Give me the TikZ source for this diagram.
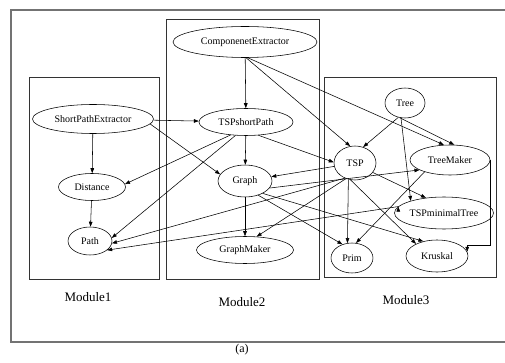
\documentclass[tikz,border=0pt]{standalone}
\usepackage{fontspec}
\setmainfont{Liberation Serif}
\usetikzlibrary{shapes.geometric,arrows.meta}

\begin{document}
\begin{tikzpicture}[->,>={Triangle[length=5pt,width=3.6pt]},x=1pt,y=-1pt,line width=0.55pt,
	comp/.style={ellipse,draw,inner sep=0pt,font=\fontsize{10}{12}\selectfont},
	modbox/.style={-,draw=black!80,line width=0.9pt},
	modlabel/.style={font=\fontsize{13}{15}\selectfont}]
	\useasboundingbox (0,0) rectangle (505,363);
	\draw[-,black!55,line width=1.2pt] (11,10) rectangle (512,342);
	
	% module frames
	\draw[modbox] (29,77) rectangle (159,279);
	\draw[modbox] (166,19) rectangle (319,279);
	\draw[modbox] (324,77) rectangle (496,277);
	\node[modlabel] (m1) at (88,297) {Module1};
	\node[modlabel] (m2) at (242,302) {Module2};
	\node[modlabel] (m3) at (406,300) {Module3};
	\node[font=\fontsize{12}{14}\selectfont] (cap) at (242,350) {(a)};
	
	% Module1
	\node[comp,minimum width=121pt,minimum height=29pt] (spe) at (93,119) {ShortPathExtractor};
	\node[comp,minimum width=67pt,minimum height=27pt] (dist) at (92,187) {Distance};
	\node[comp,minimum width=44pt,minimum height=28pt] (path) at (90,241) {Path};
	
	% Module2
	\node[comp,minimum width=144pt,minimum height=31pt] (ce) at (245,42) {ComponenetExtractor};
	\node[comp,minimum width=94pt,minimum height=27pt] (tsps) at (246,122) {TSPshortPath};
	\node[comp,minimum width=54pt,minimum height=32pt] (graph) at (245,181) {Graph};
	\node[comp,minimum width=97pt,minimum height=27pt] (gmaker) at (245,250) {GraphMaker};
	
	% Module3
	\node[comp,minimum width=40pt,minimum height=30pt] (tree) at (405,103) {Tree};
	\node[comp,minimum width=42pt,minimum height=34pt] (tsp) at (355,163) {TSP};
	\node[comp,minimum width=80pt,minimum height=30pt] (tmaker) at (450,160) {TreeMaker};
	\node[comp,minimum width=99pt,minimum height=32pt] (tspmin) at (444,213) {TSPminimalTree};
	\node[comp,minimum width=42pt,minimum height=30pt] (prim) at (352,258) {Prim};
	\node[comp,minimum width=62pt,minimum height=32pt] (kruskal) at (437,256) {Kruskal};
	
	\draw 	(spe) edge (dist)
			(dist) edge (path)
			(spe) edge (tsps)
			(spe.-5) edge (graph.165)
			(ce) edge (tsps)
			(ce.-86) edge (tsp.106)
			(ce.-80) edge (tmaker.112)
			(tsps) edge (graph)
			(tsps.-47) edge (tsp.178)
			(tsps.-140) edge (dist.5)
			(tsps.-128) edge (path.8)
			(tsp) edge (graph)
			(tsp.-124) edge (path.-6)
			(tsp.-120) edge (gmaker.49)
			(graph) edge (gmaker)
			(tsp.-112) edge (prim.107)
			(tsp.-105) edge (kruskal.150)
			(tsp.-28) edge (tspmin.140)
			(tree.-115) edge (tsp.63)
			(tree.-110) edge (tmaker.74)
			(tree.-105) edge (tspmin.160)
			(tmaker.-155) edge (prim.75)
			(graph.-47) edge (prim.125)
			(graph.-35) edge (kruskal.133)
			(graph.-16) edge (tmaker.-162)
			(tspmin.172) edge (path.-28);
	\draw (tmaker.east) -- ++(0,85) -| (kruskal.8);
\end{tikzpicture}
\end{document}
